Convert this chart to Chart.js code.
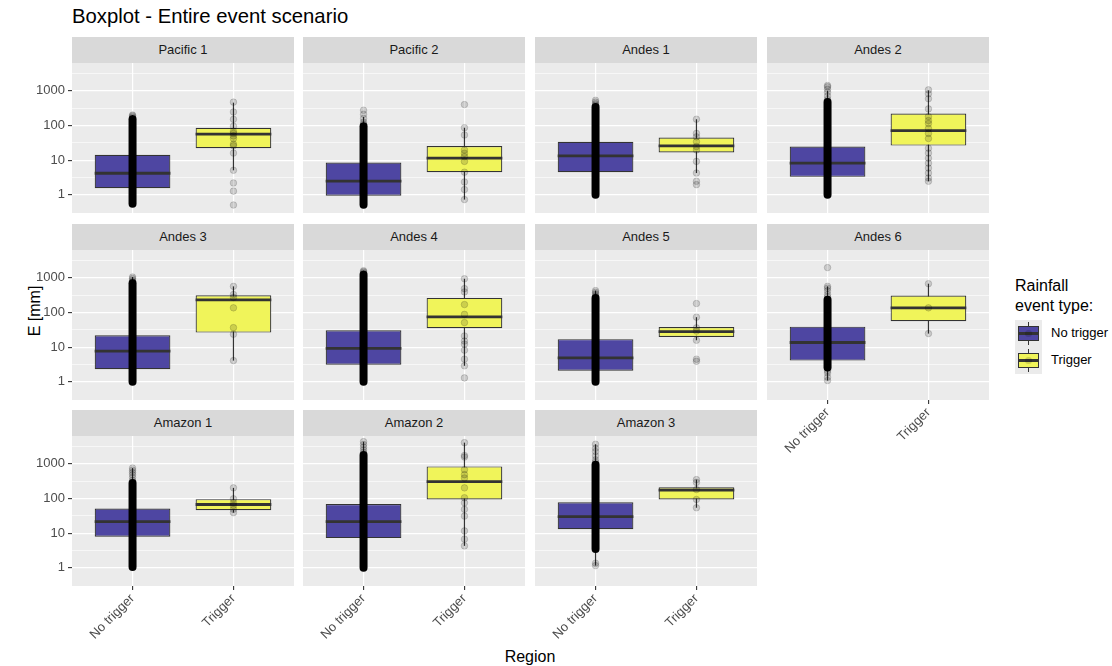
<!DOCTYPE html>
<html>
<head>
<meta charset="utf-8">
<title>Boxplot - Entire event scenario</title>
<script src="https://cdn.jsdelivr.net/npm/chart.js@4/dist/chart.umd.min.js"></script>
<style>
  body { margin: 0; background: #fff; font-family: "Liberation Sans", Arial, sans-serif; }
  #wrap { position: relative; width: 1112px; height: 666px; overflow: hidden; background: #fff; }
  .strip { position: absolute; background: #D9D9D9; color: #1A1A1A; font-size: 13px; text-align: center; }
  canvas.panel { position: absolute; }
  .title { position: absolute; left: 72px; top: 6px; font-size: 20.3px; line-height: 20.3px; color: #000; white-space: nowrap; }
  .ytitle { position: absolute; left: 35px; top: 311px; font-size: 16px; transform: translate(-50%, -50%) rotate(-90deg); white-space: nowrap; }
  .xtitle { position: absolute; left: 530px; top: 657px; font-size: 16px; transform: translate(-50%, -50%); white-space: nowrap; }
  .legtitle { position: absolute; left: 1015px; top: 276px; font-size: 16px; line-height: 19.5px; }
  .key { position: absolute; left: 1015px; width: 27px; height: 27px; background: #EBEBEB; }
  .key .wh { position: absolute; left: 13px; top: 2px; width: 1.2px; height: 23px; background: #333; }
  .key .bx { position: absolute; left: 3px; top: 6px; width: 19px; height: 13px; border: 1.2px solid #333; }
  .key .md { position: absolute; left: 3px; top: 12px; width: 21px; height: 2.5px; background: #333; }
  .key .pt { position: absolute; left: 10px; top: 10px; width: 7px; height: 7px; border-radius: 50%; background: rgba(0,0,0,0.15); }
  .keylab { position: absolute; left: 1051px; font-size: 13px; color: #000; }
</style>
</head>
<body>
<div id="wrap">
  <div class="title">Boxplot - Entire event scenario</div>
  <div class="ytitle">E [mm]</div>
  <div class="xtitle">Region</div>
  <div class="legtitle">Rainfall<br>event type:</div>
  <div class="key" style="top:320px"><div class="wh"></div><div class="bx" style="background:#4E46A2"></div><div class="md"></div><div class="pt"></div></div>
  <div class="key" style="top:347px"><div class="wh"></div><div class="bx" style="background:#F0F45A"></div><div class="md"></div><div class="pt"></div></div>
  <div class="keylab" style="top:325px">No trigger</div>
  <div class="keylab" style="top:352px">Trigger</div>
</div>
<script>
// Données
const regions = ['Pacific 1', 'Pacific 2', 'Andes 1', 'Andes 2', 'Andes 3', 'Andes 4',
                 'Andes 5', 'Andes 6', 'Amazon 1', 'Amazon 2', 'Amazon 3'];
const groups = ['No trigger', 'Trigger'];
const yTicks = [1, 10, 100, 1000];
const yMinor = [3.162, 31.62, 316.2, 3162];

// No trigger : boîtes
const noTrigQ1  = [1.55, 0.94, 4.5, 3.3, 2.3, 3.1, 2.1, 4.1, 7.9, 7.2, 13];
const noTrigMed = [4.2, 2.5, 13.3, 8.2, 7.7, 9.2, 4.9, 13.6, 21.6, 21.6, 30];
const noTrigQ3  = [14.2, 8.6, 34, 24.6, 22, 30.6, 17, 39, 51, 69, 78];
const noTrigLo  = [0.55, 0.52, 1.0, 1.0, 1.0, 1.0, 1.0, 1.09, 1.05, 1.0, 1.16];
const noTrigHi  = [200, 177, 430, 1000, 1050, 1600, 426, 565, 752, 4330, 3650];
// No trigger : nuage dense de points (colonne noire)
const noTrigDenseLo = [0.55, 0.52, 1.0, 1.0, 1.0, 1.0, 1.0, 2.6, 1.05, 1.0, 3.5];
const noTrigDenseHi = [150, 95, 340, 475, 700, 1220, 263, 234, 280, 1800, 935];
// No trigger : points isolés
const noTrigPoints = [
  [160, 175, 190, 200],
  [110, 125, 160, 210, 275],
  [380, 420, 470, 530],
  [560, 700, 900, 1100, 1300, 1420],
  [760, 850, 950, 1050],
  [1300, 1400, 1500, 1600],
  [300, 340, 380, 426],
  [1960, 565, 500, 420, 330, 280, 2.1, 1.8, 1.36, 1.09],
  [330, 400, 480, 560, 650, 752],
  [2100, 2500, 3000, 3600, 4330],
  [1100, 1300, 1700, 2240, 2800, 3650, 1.36, 1.16]
];

// Trigger : boîtes
const trigQ1  = [22, 4.5, 16.6, 26.3, 26.3, 35, 19.7, 56, 46, 93.6, 93.6];
const trigMed = [56, 11.4, 25.7, 70.6, 231, 75, 28, 136, 67, 306, 173];
const trigQ3  = [86, 25.7, 45, 220, 312, 263, 38, 306, 95.6, 838, 210];
const trigLo  = [5.1, 0.73, 4.25, 2.46, 4.1, 2.9, 15.8, 24.6, 39, 4.3, 54];
const trigHi  = [454, 86, 151, 1020, 565, 936, 73, 675, 202, 4060, 349];
const trigPoints = [
  [470, 245, 150, 95, 68, 59, 50, 42, 29, 26, 16, 5.1, 2.2, 1.28, 0.51],
  [400, 86, 53, 19.7, 15.8, 12.7, 9.2, 4.5, 2.35, 1.42, 0.73],
  [151, 59, 47, 34, 24.6, 19.7, 9.2, 4.25, 2.46, 1.97],
  [1060, 820, 590, 300, 180, 138, 114, 82, 59, 42, 22, 16, 11.4, 8.2, 5.9, 4.25, 3.06, 2.46],
  [565, 330, 272, 136, 36.5, 23.5, 4.1],
  [936, 486, 390, 169, 88, 51, 21, 15, 12.2, 8.2, 4.5, 2.9, 1.3],
  [181, 73, 36, 29, 15.8, 4.5, 3.9],
  [675, 136, 24.6],
  [202, 98, 75, 63, 48.5, 39],
  [4060, 1730, 1560, 675, 485, 390, 202, 105, 75, 48.5, 31, 11.6, 6.7, 4.3],
  [349, 290, 181, 93.6, 54]
];

// Mise en page des facettes
const colLeft = [72, 303, 535, 767];
const rowTop = [63, 250, 436];
const PW = 222, PH = 150, AXW = 50, AXH = 75, STRIP = 26;
const yMin = 0.327, yMax = 6310;
const boxHalf = 0.375;
const colNo = '#4E46A2', colYes = '#F0F45A', dark = '#333333';

Chart.defaults.font.family = '"Liberation Sans", Arial, sans-serif';
Chart.defaults.animation = false;

const panelBg = {
  id: 'panelBg',
  beforeDraw(chart) {
    const a = chart.chartArea;
    chart.ctx.save();
    chart.ctx.fillStyle = '#EBEBEB';
    chart.ctx.fillRect(a.left, a.top, a.right - a.left, a.bottom - a.top);
    chart.ctx.restore();
  }
};

function isMajor(v) {
  return yTicks.includes(v);
}

function vline(x, lo, hi) {
  return [{ x: x, y: lo }, { x: x, y: hi }];
}

function makePanel(i) {
  const wrap = document.getElementById('wrap');
  const row = Math.floor(i / 4), col = i % 4;
  const left = colLeft[col], top = rowTop[row];
  const showY = col === 0;
  const showX = i >= 7;

  const strip = document.createElement('div');
  strip.className = 'strip';
  strip.style.left = left + 'px';
  strip.style.top = (top - STRIP) + 'px';
  strip.style.width = PW + 'px';
  strip.style.height = STRIP + 'px';
  strip.style.lineHeight = STRIP + 'px';
  strip.textContent = regions[i];
  wrap.appendChild(strip);

  const canvas = document.createElement('canvas');
  canvas.className = 'panel';
  canvas.width = PW + AXW;
  canvas.height = PH + AXH;
  canvas.style.left = (left - AXW) + 'px';
  canvas.style.top = top + 'px';
  wrap.appendChild(canvas);

  const pointStyle = {
    type: 'line', showLine: false, pointRadius: 3.3, pointBorderWidth: 1,
    pointBackgroundColor: 'rgba(0,0,0,0.15)', pointBorderColor: 'rgba(0,0,0,0.15)', order: 1
  };
  const segStyle = { type: 'line', pointRadius: 0, borderColor: dark };

  new Chart(canvas.getContext('2d'), {
    type: 'bar',
    data: {
      datasets: [
        { ...segStyle, data: vline(1, noTrigLo[i], noTrigHi[i]), borderWidth: 1.2, order: 5 },
        { ...segStyle, data: vline(2, trigLo[i], trigHi[i]), borderWidth: 1.2, order: 5 },
        {
          type: 'bar',
          data: [{ x: 1, y: [noTrigQ1[i], noTrigQ3[i]] }, { x: 2, y: [trigQ1[i], trigQ3[i]] }],
          backgroundColor: [colNo, colYes], borderColor: dark, borderWidth: 1.2,
          borderSkipped: false, barPercentage: 0.75, categoryPercentage: 1, order: 4
        },
        { ...segStyle, data: [{ x: 1 - boxHalf, y: noTrigMed[i] }, { x: 1 + boxHalf, y: noTrigMed[i] }], borderWidth: 2.8, order: 3 },
        { ...segStyle, data: [{ x: 2 - boxHalf, y: trigMed[i] }, { x: 2 + boxHalf, y: trigMed[i] }], borderWidth: 2.8, order: 3 },
        {
          type: 'line', pointRadius: 0, data: vline(1, noTrigDenseLo[i], noTrigDenseHi[i]),
          borderColor: '#000', borderWidth: 8, borderCapStyle: 'round', order: 2
        },
        { ...pointStyle, data: noTrigPoints[i].map(v => ({ x: 1, y: v })) },
        { ...pointStyle, data: trigPoints[i].map(v => ({ x: 2, y: v })) }
      ]
    },
    options: {
      responsive: false,
      devicePixelRatio: 1,
      layout: { padding: 0, autoPadding: false },
      plugins: { legend: { display: false }, tooltip: { enabled: false } },
      scales: {
        x: {
          type: 'linear', min: 0.4, max: 2.6, offset: false,
          afterBuildTicks: s => { s.ticks = groups.map((g, k) => ({ value: k + 1 })); },
          afterFit: s => { s.height = AXH; s.paddingLeft = 0; s.paddingRight = 0; },
          grid: {
            offset: false, color: '#FFFFFF', lineWidth: 1.2, drawTicks: showX,
            tickLength: 4, tickColor: dark, tickWidth: 1.1
          },
          border: { display: false },
          ticks: {
            display: showX, autoSkip: false, maxRotation: 45, minRotation: 45, padding: 1,
            color: '#4D4D4D', font: { size: 13 },
            callback: v => groups[v - 1]
          }
        },
        y: {
          type: 'logarithmic', min: yMin, max: yMax, beginAtZero: false,
          afterBuildTicks: s => {
            s.ticks = yTicks.concat(yMinor).sort((a, b) => a - b).map(v => ({ value: v }));
          },
          afterFit: s => { s.width = AXW; s.paddingTop = 0; s.paddingBottom = 0; },
          grid: {
            color: '#FFFFFF',
            lineWidth: c => (c.tick && isMajor(c.tick.value)) ? 1.2 : 0.6,
            drawTicks: showY, tickLength: 4, tickWidth: 1.1,
            tickColor: c => (c.tick && isMajor(c.tick.value)) ? dark : 'rgba(0,0,0,0)'
          },
          border: { display: false },
          ticks: {
            display: showY, autoSkip: false, padding: 3, color: '#4D4D4D', font: { size: 13 },
            callback: v => isMajor(v) ? String(v) : ''
          }
        }
      }
    },
    plugins: [panelBg]
  });
}

regions.forEach((r, i) => makePanel(i));
</script>
</body>
</html>
